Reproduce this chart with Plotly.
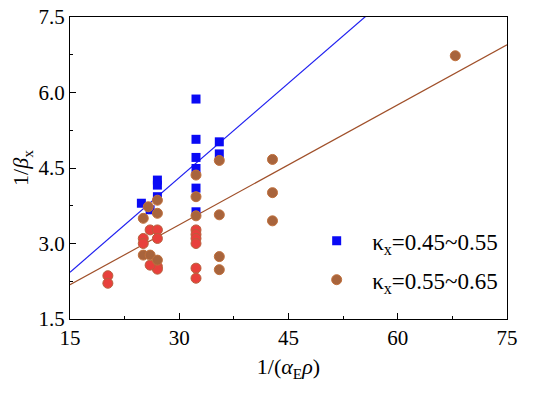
import plotly.graph_objects as go

# Blue squares: kappa_x = 0.45~0.55
sq_x = [24.8, 27.0, 27.0, 27.0, 26.0, 32.3, 32.3, 32.3, 32.3, 32.3, 32.3, 35.5, 35.5]
sq_y = [3.80, 4.26, 4.16, 3.93, 3.67, 5.87, 5.07, 4.71, 4.49, 4.10, 3.63, 5.02, 4.78]

# Circles: kappa_x = 0.55~0.65 (red-toned and brown-toned points)
red_x = [20.2, 20.2, 26.0, 27.0, 27.0, 25.06, 25.06, 27.0, 27.0, 26.0, 32.3, 32.3, 32.3, 32.3, 32.3, 32.3]
red_y = [2.36, 2.21, 3.27, 3.27, 3.10, 3.10, 3.00, 2.54, 2.49, 2.57, 3.27, 3.18, 3.10, 3.00, 2.51, 2.31]
brn_x = [25.75, 27.0, 27.0, 25.06, 25.06, 26.0, 27.0, 32.3, 32.3, 32.3, 35.5, 35.5, 35.5, 35.5, 42.8, 42.8, 42.8, 67.9]
brn_y = [3.73, 3.86, 3.60, 3.50, 2.77, 2.77, 2.67, 4.36, 3.93, 3.55, 4.65, 3.57, 2.74, 2.48, 4.67, 4.01, 3.45, 6.73]

# Linear fits (intercept, slope)
fit_blue = (0.552, 0.1252)
fit_red = (0.987, 0.0795)
fit_x = [15, 75]

x_ticks = [15, 30, 45, 60, 75]
y_ticks = [1.5, 3.0, 4.5, 6.0, 7.5]

FONT = "Liberation Serif"

fig = go.Figure()
fig.add_trace(go.Scatter(x=fit_x, y=[fit_blue[0] + fit_blue[1] * v for v in fit_x],
                         mode="lines", line=dict(color="#2020f0", width=1.2), showlegend=False))
fig.add_trace(go.Scatter(x=fit_x, y=[fit_red[0] + fit_red[1] * v for v in fit_x],
                         mode="lines", line=dict(color="#a0502a", width=1.2), showlegend=False))
fig.add_trace(go.Scatter(x=sq_x, y=sq_y, mode="markers", name="κ<sub>x</sub>=0.45~0.55",
                         legendgroup="a",
                         marker=dict(symbol="square", size=9, color="#0a0af5")))
fig.add_trace(go.Scatter(x=red_x, y=red_y, mode="markers", showlegend=False,
                         marker=dict(symbol="circle", size=10, color="#e8403c",
                                     line=dict(color="#b8603c", width=1))))
fig.add_trace(go.Scatter(x=brn_x, y=brn_y, mode="markers", name="κ<sub>x</sub>=0.55~0.65",
                         legendgroup="b",
                         marker=dict(symbol="circle", size=10, color="#a8643c",
                                     line=dict(color="#c0703c", width=1))))

axis_common = dict(showline=True, linecolor="black", linewidth=1, mirror=True,
                   ticks="inside", ticklen=6, tickcolor="black", showgrid=False,
                   zeroline=False, automargin=False, ticklabeloverflow="allow",
                   tickfont=dict(family=FONT, size=21, color="black"))
fig.update_xaxes(range=[15, 75], tickvals=x_ticks, ticktext=[str(v) for v in x_ticks],
                 minor=dict(ticks="inside", ticklen=3, tickcolor="black", dtick=7.5, tick0=15),
                 title=dict(text="1/(<i>α</i><sub>E</sub><i>ρ</i>)",
                            font=dict(family=FONT, size=22, color="black"), standoff=9),
                 **axis_common)
fig.update_yaxes(range=[1.5, 7.5], tickvals=y_ticks, ticktext=[f"{v:.1f}" for v in y_ticks],
                 minor=dict(ticks="inside", ticklen=3, tickcolor="black", dtick=0.75, tick0=1.5),
                 title=dict(text="1/<i>β</i><sub>x</sub>",
                            font=dict(family=FONT, size=22, color="black"), standoff=24),
                 **axis_common)
fig.update_layout(width=550, height=397, margin=dict(l=62, r=51, t=9, b=86),
                  paper_bgcolor="white", plot_bgcolor="white",
                  legend=dict(x=0.529, y=0.33, xanchor="left", yanchor="top",
                              bgcolor="rgba(0,0,0,0)", itemwidth=61, tracegroupgap=6,
                              font=dict(family=FONT, size=23, color="black")))
fig.write_html("out.html")
